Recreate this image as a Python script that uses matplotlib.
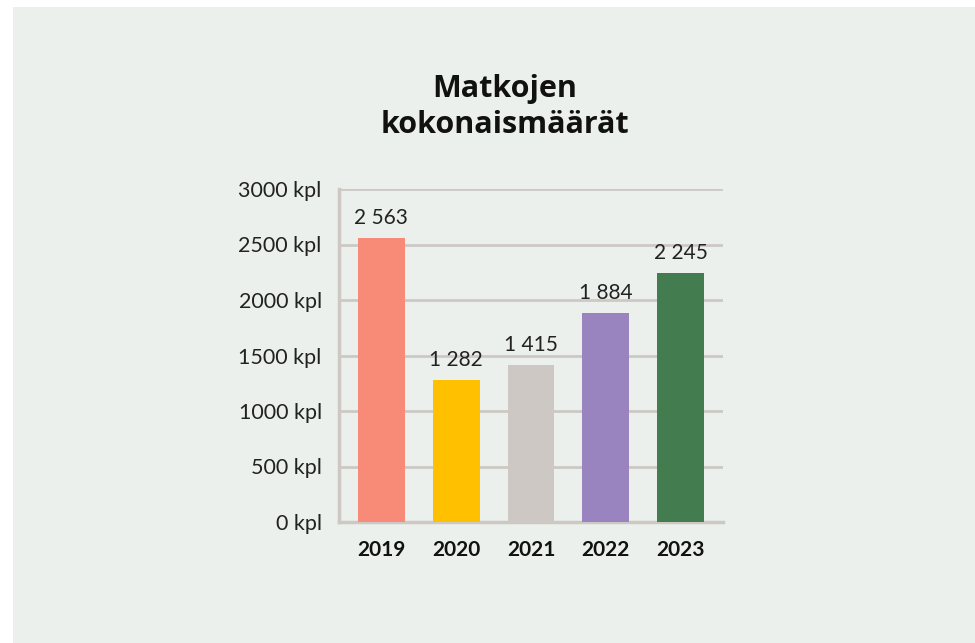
import matplotlib
matplotlib.use("Agg")
import matplotlib.pyplot as plt
from matplotlib.patches import Rectangle

years = ["2019", "2020", "2021", "2022", "2023"]
values = [2563, 1282, 1415, 1884, 2245]
value_labels = ["2 563", "1 282", "1 415", "1 884", "2 245"]
colors = ["#F88B77", "#FFC000", "#CDC8C4", "#9984C0", "#437C4F"]
yticks = [0, 500, 1000, 1500, 2000, 2500, 3000]
ytick_labels = [f"{v} kpl" for v in yticks]
title = "Matkojen\nkokonaismäärät"

W, H = 975, 643
fig = plt.figure(figsize=(W / 100, H / 100), dpi=100)
fig.patch.set_facecolor("white")
fig.patches.append(Rectangle((13 / W, 0), 1 - 13 / W, 1 - 7 / H,
                             transform=fig.transFigure, facecolor="#ECF0EC",
                             edgecolor="none", zorder=-10))

ax_l, ax_r, ax_t, ax_b = 339, 723, 189, 522
ax = fig.add_axes([ax_l / W, 1 - ax_b / H, (ax_r - ax_l) / W, (ax_b - ax_t) / H])
ax.set_facecolor("none")

grid_col = "#CDC8C4"
txt_col = "#222222"
x = list(range(len(years)))
ax.bar(x, values, width=0.627, color=colors, zorder=3)
for xi, v, lab in zip(x, values, value_labels):
    ax.annotate(lab, (xi, v), xytext=(0, 7), textcoords="offset points",
                ha="center", va="bottom", fontsize=15, family="Lato",
                color=txt_col, zorder=4)

ax.set_xlim(-0.567, 4.567)
ax.set_ylim(0, 3000)
ax.set_yticks(yticks)
ax.set_yticklabels(ytick_labels, fontsize=15.5, family="Lato", color=txt_col)
ax.set_xticks(x)
ax.set_xticklabels(years, fontsize=15, family="Lato", fontweight="bold", color="#111111")
ax.tick_params(axis="both", length=0)
ax.tick_params(axis="y", pad=12.5)
ax.tick_params(axis="x", pad=13)
ax.yaxis.grid(True, color=grid_col, linewidth=2, zorder=1)
ax.set_axisbelow(True)
for s in ["top", "right"]:
    ax.spines[s].set_visible(False)
for s in ["left", "bottom"]:
    ax.spines[s].set_color(grid_col)
    ax.spines[s].set_linewidth(2.5)

fig.text(505 / W, 1 - 107 / H, title, ha="center", va="center", fontsize=22,
         fontweight="bold", family="Open Sans", color="#111111", linespacing=1.3)

fig.savefig("out.png", dpi=100, facecolor=fig.get_facecolor())
